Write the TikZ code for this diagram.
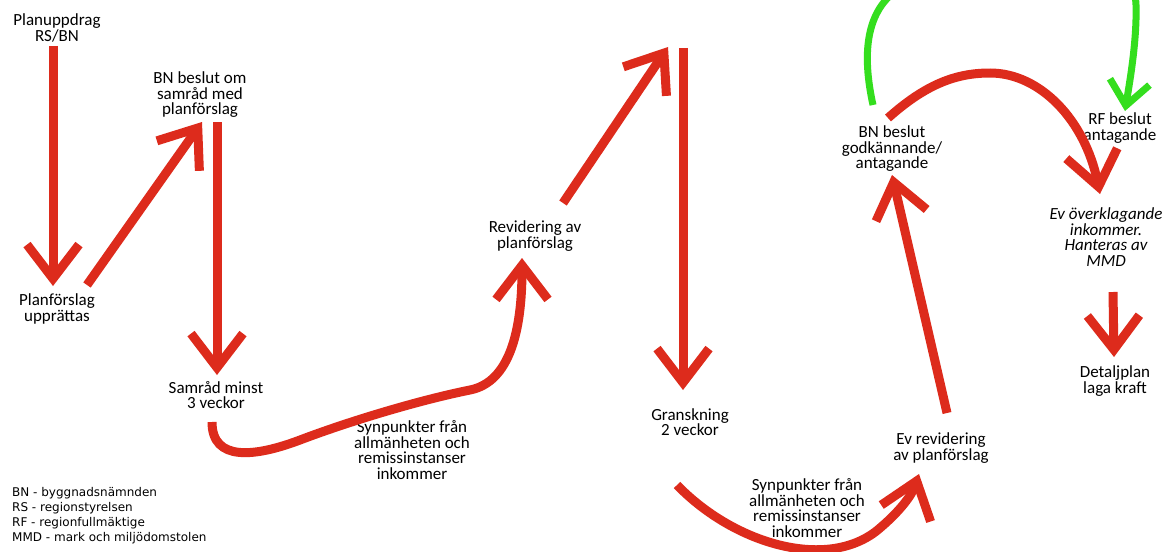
\documentclass[tikz,border=0pt]{standalone}
\usepackage{fontspec}
\setmainfont{Carlito}
\newfontfamily\legendfont{DejaVu Sans}
\usetikzlibrary{arrows.meta}
\definecolor{flowred}{RGB}{221,43,28}
\definecolor{flowgreen}{RGB}{52,222,30}
\tikzset{
  lbl/.style={align=center, inner sep=0pt, font=\fontsize{17}{15.5}\selectfont},
  flow/.style={draw=flowred, line width=9pt,
    -{Straight Barb[length=34pt,width=52pt,line cap=butt,line join=miter]}},
  gflow/.style={draw=flowgreen, line width=7pt,
    -{Straight Barb[length=24pt,width=40pt,line cap=butt,line join=miter]}},
}
\begin{document}
\begin{tikzpicture}[x=1pt,y=-1pt]
\useasboundingbox (0,0) rectangle (1174,551);
\clip (0,0) rectangle (1174,551);
\fill[white] (0,0) rectangle (1174,551);

% text nodes
\node[lbl] (uppdrag) at (57,28) {Planuppdrag\\RS/BN};
\node[lbl] (upprattas) at (57,309) {Planförslag\\upprättas};
\node[lbl] (samradbeslut) at (200,95) {BN beslut om\\samråd med\\planförslag};
\node[lbl] (samrad) at (216,395) {Samråd minst\\3 veckor};
\node[lbl] (synp1) at (412,450) {Synpunkter från\\allmänheten och\\remissinstanser\\inkommer};
\node[lbl] (revidering) at (535,236) {Revidering av\\planförslag};
\node[lbl] (granskning) at (690,422) {Granskning\\2 veckor};
\node[lbl] (synp2) at (807,508) {Synpunkter från\\allmänheten och\\remissinstanser\\inkommer};
\node[lbl] (evrev) at (941,448) {Ev revidering\\av planförslag};
\node[lbl] (godk) at (892,149) {BN beslut\\godkännande/\\antagande};
\node[lbl] (rf) at (1120,128) {RF beslut\\antagande};
\node[lbl, font=\fontsize{17}{15.5}\selectfont\itshape] (overkl) at (1106,237) {Ev överklagande\\inkommer.\\Hanteras av\\MMD};
\node[lbl] (kraft) at (1115,381) {Detaljplan\\laga kraft};
\node[anchor=north west, align=left, inner sep=0pt,
  font=\legendfont\fontsize{12}{15}\selectfont] (legend) at (12,487)
  {BN - byggnadsnämnden\\RS - regionstyrelsen\\RF - regionfullmäktige\\MMD - mark och miljödomstolen};

% arrow end points
\coordinate (a1s) at (53,46);   \coordinate (a1e) at (53,286);
\coordinate (a2s) at (87,285);  \coordinate (a2e) at (202,122);
\coordinate (a3s) at (217,122); \coordinate (a3e) at (217,375);
\coordinate (a4s) at (212,422); \coordinate (a4e) at (522,258);
\coordinate (a5s) at (563,203); \coordinate (a5e) at (668,47);
\coordinate (a6s) at (683,48);  \coordinate (a6e) at (683,390);
\coordinate (a7s) at (677,485); \coordinate (a7e) at (919,474);
\coordinate (a8s) at (947,413); \coordinate (a8e) at (892,175);
\coordinate (a9s) at (888,118); \coordinate (a9e) at (1100,194);
\coordinate (g1s) at (873,105); \coordinate (g1e) at (1125,111);
\coordinate (a10s) at (1113,292); \coordinate (a10e) at (1114,357);

% connectors
\draw[flow] (a1s) -- (a1e);
\draw[flow] (a2s) -- (a2e);
\draw[flow] (a3s) -- (a3e);
\draw[flow] (a4s) .. controls (212,462) and (255,457) .. (300,440)
  .. controls (350,421) and (420,400) .. (470,390)
  .. controls (510,382) and (522,330) .. (a4e);
\draw[flow] (a5s) -- (a5e);
\draw[flow] (a6s) -- (a6e);
\draw[flow] (a7s) .. controls (735,545) and (830,572) .. (880,528)
  .. controls (900,511) and (912,495) .. (a7e);
\draw[flow] (a8s) -- (a8e);
\draw[flow] (a9s) .. controls (925,85) and (955,73) .. (990,73)
  .. controls (1040,73) and (1085,120) .. (a9e);
\draw[gflow] (g1s) .. controls (862,55) and (865,10) .. (900,-12)
  .. controls (930,-32) and (970,-40) .. (1005,-40)
  .. controls (1100,-40) and (1135,-30) .. (1136,5)
  .. controls (1137,40) and (1130,80) .. (g1e);
\draw[flow] (a10s) -- (a10e);
\end{tikzpicture}
\end{document}
